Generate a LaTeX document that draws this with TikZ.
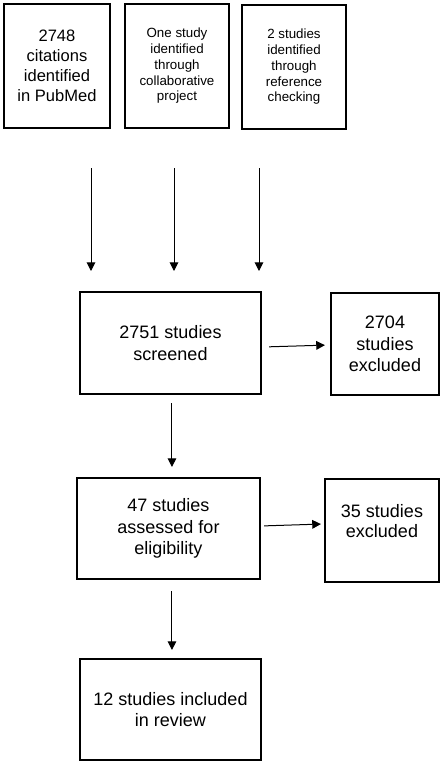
\documentclass[tikz,border=0pt]{standalone}
\usepackage{fontspec}
\setmainfont{Liberation Sans}
\usetikzlibrary{arrows.meta}

\tikzset{every picture/.style={line width=0.75pt}}
\tikzset{
	flowbox/.style={draw, line width=2.1pt, align=center, inner sep=0.75pt, font=\fontsize{13.5}{16.3}\selectfont},
	sourcebox/.style={flowbox, font=\fontsize{12.4}{15}\selectfont},
	smallbox/.style={flowbox, font=\fontsize{10}{11.8}\selectfont},
	flowarrow/.style={-{Triangle[length=6.5pt,width=6.5pt]}, line width=0.75pt}}

\begin{document}
\begin{tikzpicture}[x=0.75pt,y=0.75pt,yscale=-1,xscale=1]
	\useasboundingbox (0,0) rectangle (444,765);
	
	% Source boxes
	\node [sourcebox, minimum width=79.5pt, minimum height=93pt] (pubmed) at (57,66) {2748\\citations\\identified\\in PubMed};
	\node [smallbox, minimum width=78pt, minimum height=93pt] (collab) at (177,66) {One study\\identified\\through\\collaborative\\project};
	\node [smallbox, minimum width=78pt, minimum height=93pt] (refcheck) at (294,67) {2 studies\\identified\\through\\reference\\checking};
	
	% Free arrow ends
	\coordinate (pubTop) at (91,168);
	\coordinate (pubEnd) at (91,271);
	\coordinate (collabTop) at (174,168);
	\coordinate (collabEnd) at (174,271);
	\coordinate (refTop) at (259,168);
	\coordinate (refEnd) at (259,271);
	
	% Screening
	\node [flowbox, minimum width=135.75pt, minimum height=76.5pt] (screened) at (170.5,343) {2751 studies\\screened};
	\node [flowbox, minimum width=81pt, minimum height=76.5pt] (excl1) at (385,344) {2704\\studies\\excluded};
	
	% Eligibility
	\node [flowbox, minimum width=137.25pt, minimum height=75.75pt] (assessed) at (168.5,528.5) {47 studies\\assessed for\\eligibility};
	\node [flowbox, font=\fontsize{13.5}{15}\selectfont, minimum width=85.5pt, minimum height=77.25pt] (excl2) at (382,530.5) {35 studies\\excluded\\\mbox{}};
	
	% Included
	\node [flowbox, minimum width=135.75pt, minimum height=75.75pt] (included) at (170.5,709.5) {12 studies included\\in review};
	
	% Arrows
	\draw [flowarrow] (pubTop) -- (pubEnd);
	\draw [flowarrow] (collabTop) -- (collabEnd);
	\draw [flowarrow] (refTop) -- (refEnd);
	\draw [flowarrow, shorten <=5pt, shorten >=3.5pt] ([yshift=3pt]screened.east) -- ([yshift=0.75pt]excl1.west);
	\draw [flowarrow, shorten <=5.75pt, shorten >=7.25pt] ([xshift=1.1pt]screened.south) -- ([xshift=1.1pt]screened.south |- assessed.north);
	\draw [flowarrow, shorten <=2pt, shorten >=2pt] ([yshift=-1.9pt]assessed.east) -- ([yshift=-4.9pt]excl2.west);
	\draw [flowarrow, shorten <=8pt, shorten >=5.75pt] ([xshift=2.6pt]assessed.south) -- ([xshift=2.6pt]assessed.south |- included.north);
	
\end{tikzpicture}
\end{document}
